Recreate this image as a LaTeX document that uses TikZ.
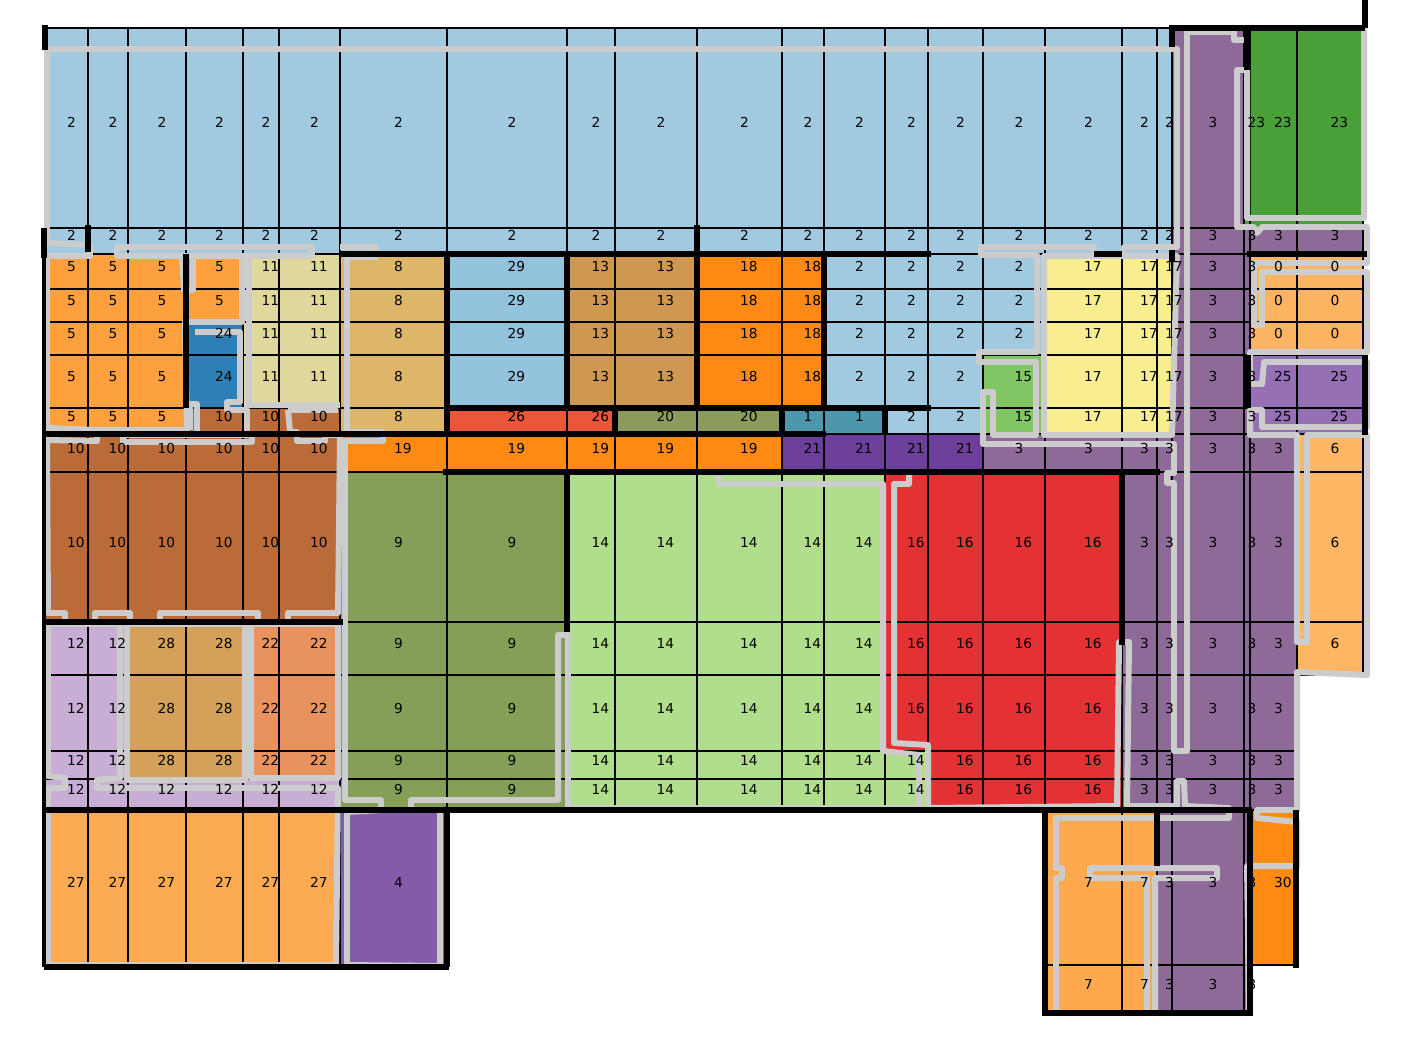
\documentclass[tikz,border=0pt]{standalone}
\usepackage{fontspec}
\setmainfont{DejaVu Sans}
\usetikzlibrary{positioning}

\definecolor{c0}{HTML}{FDB462}
\definecolor{c1}{HTML}{4C97AB}
\definecolor{c2}{HTML}{A1C9E0}
\definecolor{c3}{HTML}{8E6A99}
\definecolor{c4}{HTML}{845BA8}
\definecolor{c5}{HTML}{FDA03D}
\definecolor{c6}{HTML}{FDB664}
\definecolor{c7}{HTML}{FDAA4F}
\definecolor{c8}{HTML}{DDB66A}
\definecolor{c9}{HTML}{869F57}
\definecolor{c10}{HTML}{BA6B37}
\definecolor{c11}{HTML}{E0D89B}
\definecolor{c12}{HTML}{C8AED5}
\definecolor{c13}{HTML}{CF9852}
\definecolor{c14}{HTML}{B1DE8C}
\definecolor{c15}{HTML}{82C564}
\definecolor{c16}{HTML}{E43134}
\definecolor{c17}{HTML}{F8EE90}
\definecolor{c18}{HTML}{FD8A14}
\definecolor{c19}{HTML}{FE8913}
\definecolor{c20}{HTML}{8B9B5B}
\definecolor{c21}{HTML}{6C3F9A}
\definecolor{c22}{HTML}{E8935D}
\definecolor{c23}{HTML}{4AA038}
\definecolor{c24}{HTML}{2D7FB5}
\definecolor{c25}{HTML}{9570B5}
\definecolor{c26}{HTML}{EB563B}
\definecolor{c27}{HTML}{FDAB52}
\definecolor{c28}{HTML}{D4A15B}
\definecolor{c29}{HTML}{94C3DE}
\definecolor{c30}{HTML}{FD8A13}
\definecolor{rimgrey}{HTML}{CCCCCC}

\def\colx{{45,88,128,186,243,279,340,447,567,615,697,782,824,885,928,983,1045,1122,1157,1172,1244,1250,1297,1363}}
\def\gridrows{
    28/228/{2,2,2,2,2,2,2,2,2,2,2,2,2,2,2,2,2,2,2,3,23,23,23},
    228/254/{2,2,2,2,2,2,2,2,2,2,2,2,2,2,2,2,2,2,2,3,3,3,3},
    254/289/{5,5,5,5,11,11,8,29,13,13,18,18,2,2,2,2,17,17,17,3,3,0,0},
    289/322/{5,5,5,5,11,11,8,29,13,13,18,18,2,2,2,2,17,17,17,3,3,0,0},
    322/355/{5,5,5,24,11,11,8,29,13,13,18,18,2,2,2,2,17,17,17,3,3,0,0},
    355/408/{5,5,5,24,11,11,8,29,13,13,18,18,2,2,2,15,17,17,17,3,3,25,25},
    408/434/{5,5,5,10,10,10,8,26,26,20,20,1,1,2,2,15,17,17,17,3,3,25,25},
    434/472/{10,10,10,10,10,10,19,19,19,19,19,21,21,21,21,3,3,3,3,3,3,3,6},
    472/622/{10,10,10,10,10,10,9,9,14,14,14,14,14,16,16,16,16,3,3,3,3,3,6},
    622/675/{12,12,28,28,22,22,9,9,14,14,14,14,14,16,16,16,16,3,3,3,3,3,6},
    675/751/{12,12,28,28,22,22,9,9,14,14,14,14,14,16,16,16,16,3,3,3,3,3,-1},
    751/779/{12,12,28,28,22,22,9,9,14,14,14,14,14,14,16,16,16,3,3,3,3,3,-1},
    779/810/{12,12,12,12,12,12,9,9,14,14,14,14,14,14,16,16,16,3,3,3,3,3,-1},
    810/965/{27,27,27,27,27,27,4,-1,-1,-1,-1,-1,-1,-1,-1,-1,7,7,3,3,3,30,-1},
    965/1013/{-1,-1,-1,-1,-1,-1,-1,-1,-1,-1,-1,-1,-1,-1,-1,-1,7,7,3,3,3,-1,-1}}

\begin{document}
\begin{tikzpicture}[
    x=0.01cm, y=-0.01cm,
    cell/.style={draw=black, line width=0.5pt},
    lab/.style={font=\fontsize{3.9}{4.5}\selectfont, inner sep=0pt, anchor=base west},
    rim/.style={draw=rimgrey, line width=1.7pt, line join=round},
    wall/.style={draw=black, line width=1.7pt}
]
\useasboundingbox (0,0) rectangle (1410,1040);

\foreach \ya/\yb/\vals in \gridrows {
  \foreach \v [count=\i from 0] in \vals {
    \ifnum\v<0\relax\else
      \pgfmathsetmacro\xa{\colx[\i]}
      \pgfmathsetmacro\xb{\colx[\i+1]}
      \filldraw[cell, fill=c\v] (\xa,\ya) rectangle (\xb,\yb);
    \fi
  }
}

\draw[rim] (47,243) -- (47,49) -- (1177,49) -- (1177,247) -- (1124,247) -- (1124,256)
  -- (1094,256) -- (1094,247) -- (981,247) -- (981,255) -- (1037,255) -- (1037,352)
  -- (979,352) -- (979,362) -- (1036,362) -- (1036,435) -- (993,435) -- (993,392)
  -- (983,392) -- (983,444) -- (1174,444) -- (1174,473) -- (1167,473) -- (1167,483)
  -- (1174,483) -- (1174,751) -- (1187,751) -- (1187,32) -- (1234,32) -- (1234,40)
  -- (1247,40) -- (1247,28);
\draw[rim] (47,243) -- (90,245) -- (90,256) -- (47,256) -- (47,428) -- (97,430) -- (97,441)
  -- (47,440) -- (48,613) -- (65,613) -- (65,622) -- (48,624) -- (48,776) -- (65,778)
  -- (65,788) -- (48,788) -- (48,965) -- (336,965) -- (338,788) -- (97,788) -- (97,780)
  -- (120,778) -- (120,624) -- (48,624);
\draw[rim] (117,247) rectangle (312,256);
\draw[rim] (117,256) -- (182,256) -- (184,290) -- (193,290) -- (193,256) -- (242,256)
  -- (242,322) -- (185,322) -- (187,430) -- (97,430);
\draw[rim] (195,332) -- (240,332) -- (240,402) -- (227,402) -- (227,410) -- (247,410)
  -- (247,435) -- (197,435) -- (197,404) -- (190,404) -- (190,430);
\draw[rim] (249,256) -- (249,405) -- (340,405);
\draw[rim] (123,435) rectangle (252,442);
\draw[rim] (288,410) -- (338,410);
\draw[rim] (288,410) -- (290,432) -- (297,432) -- (297,441) -- (325,441) -- (325,435) -- (340,435);
\draw[rim] (340,435) -- (338,613) -- (288,613) -- (288,622);
\draw[rim] (258,624) -- (258,613) -- (160,613) -- (160,622);
\draw[rim] (130,624) -- (130,613) -- (95,613) -- (95,622);
\draw[rim] (127,624) rectangle (245,780);
\draw[rim] (251,624) rectangle (338,778);
\draw[rim] (340,247) -- (376,247) -- (376,257) -- (347,257) -- (347,432) -- (383,432)
  -- (383,441) -- (345,441) -- (345,800) -- (381,800) -- (381,810) -- (347,812)
  -- (347,965) -- (440,966) -- (440,810) -- (411,810) -- (411,800) -- (558,800)
  -- (558,635) -- (568,635) -- (568,808) -- (919,808) -- (919,755) -- (883,751)
  -- (883,484) -- (719,484) -- (719,472) -- (909,472) -- (909,484) -- (894,484)
  -- (894,743) -- (928,745) -- (928,808) -- (1117,806) -- (1119,642) -- (1129,642)
  -- (1127,806) -- (1177,806) -- (1177,781) -- (1184,781) -- (1185,806) -- (1229,808)
  -- (1229,818) -- (1056,818) -- (1056,868) -- (1062,868) -- (1062,878) -- (1056,878)
  -- (1056,1013) -- (1147,1013) -- (1147,878) -- (1090,878) -- (1090,868) -- (1217,868)
  -- (1217,878) -- (1155,878) -- (1155,1013) -- (1249,1013) -- (1247,866) -- (1297,866)
  -- (1297,822) -- (1257,818) -- (1257,810) -- (1297,810) -- (1297,672) -- (1367,675)
  -- (1367,435) -- (1307,435) -- (1307,642) -- (1297,642) -- (1297,435) -- (1250,435)
  -- (1250,410) -- (1262,410) -- (1262,427) -- (1367,427) -- (1367,362) -- (1264,362)
  -- (1262,384) -- (1250,384) -- (1250,352) -- (1367,352) -- (1367,272) -- (1262,272)
  -- (1262,325) -- (1254,325) -- (1254,263) -- (1367,263) -- (1367,227) -- (1262,227)
  -- (1257,233) -- (1254,227) -- (1237,227) -- (1237,70) -- (1247,70) -- (1247,218)
  -- (1364,218) -- (1364,28);
\draw[rim] (1044,256) -- (1177,256) -- (1172,435) -- (1044,435) -- cycle;

\draw[wall] (45,25) -- (45,50);
\draw[wall] (44,228) -- (44,258);
\draw[wall, line width=1.2pt] (44,258) -- (44,967);
\draw[wall] (44,967) -- (449,967);
\draw[wall] (88,225) -- (88,252);
\draw[wall] (447,810) -- (447,967);
\draw[wall] (44,810) -- (1252,810);
\draw[wall] (1045,810) -- (1045,1013) -- (1253,1013);
\draw[wall] (1250,810) -- (1250,1013);
\draw[wall] (1296,810) -- (1296,968);
\draw[wall] (1157,810) -- (1157,866);
\draw[wall] (1172,25) -- (1172,47);
\draw[wall] (1172,28) -- (1365,28);
\draw[wall] (1365,0) -- (1365,28);
\draw[wall] (1247,28) -- (1247,70);
\draw[wall] (340,254) -- (931,254);
\draw[wall] (697,225) -- (697,408);
\draw[wall] (447,254) -- (447,434);
\draw[wall] (567,254) -- (567,408);
\draw[wall] (567,472) -- (567,632);
\draw[wall] (824,254) -- (824,408);
\draw[wall] (447,408) -- (931,408);
\draw[wall] (615,408) -- (615,434);
\draw[wall] (782,408) -- (782,434);
\draw[wall] (885,408) -- (885,434);
\draw[wall] (44,434) -- (826,434);
\draw[wall] (443,472) -- (1160,472);
\draw[wall] (1122,472) -- (1122,645);
\draw[wall] (186,254) -- (186,408);
\draw[wall] (44,622) -- (343,622);
\draw[wall] (1248,355) -- (1248,408);
\draw[wall] (1365,355) -- (1365,435);
\draw[wall] (1247,254) -- (1367,254);
\draw[wall] (1094,254) -- (1122,254);
\draw[wall] (1172,250) -- (1172,262);

\foreach \ya/\yb/\vals [count=\r] in \gridrows {
  \foreach \v [count=\i from 0] in \vals {
    \ifnum\v<0\relax\else
      \pgfmathsetmacro\xa{\colx[\i]}
      \pgfmathsetmacro\xb{\colx[\i+1]}
      \node[lab] (v\r-\i) at ({(\xa+\xb)/2},{(\ya+\yb)/2}) {\v};
    \fi
  }
}
\end{tikzpicture}
\end{document}
